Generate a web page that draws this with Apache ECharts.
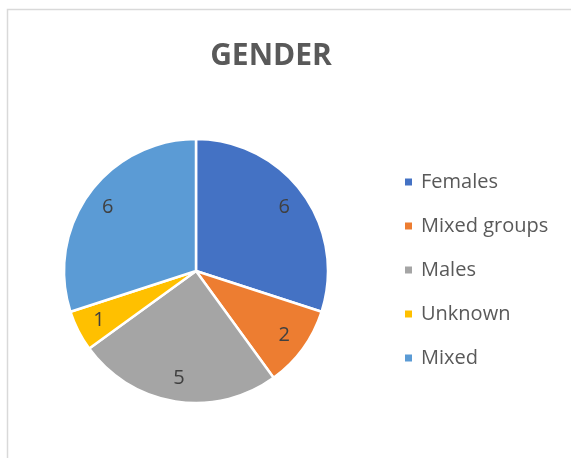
<!DOCTYPE html>
<html>
<head>
<meta charset="utf-8">
<script src="https://cdn.jsdelivr.net/npm/echarts@6/dist/echarts.min.js"></script>
<style>
  html, body { margin: 0; padding: 0; background: #fff; }
  #chart { width: 571px; height: 458px; }
</style>
</head>
<body>
<div id="chart"></div>
<script>
// Gender breakdown, in Excel's order (clockwise from 12 o'clock)
const categories = ['Females', 'Mixed groups', 'Males', 'Unknown', 'Mixed'];
const counts = [6, 2, 5, 1, 6];
const colors = ['#4472C4', '#ED7D31', '#A5A5A5', '#FFC000', '#5B9BD5'];

const data = categories.map((name, i) => ({ name, value: counts[i] }));

const chart = echarts.init(document.getElementById('chart'), null, { renderer: 'canvas' });

chart.setOption({
  animation: false,
  color: colors,
  title: {
    text: 'GENDER',
    left: 266,
    textAlign: 'center',
    top: 36,
    textStyle: { fontFamily: 'Open Sans', fontWeight: 'bold', fontSize: 30, color: '#595959' }
  },
  legend: {
    orient: 'vertical',
    left: 398,
    top: 167,
    icon: 'rect',
    itemWidth: 9,
    itemHeight: 9,
    itemGap: 24,
    data: categories,
    textStyle: {
      fontFamily: 'Open Sans', fontSize: 20, color: '#595959',
      lineHeight: 20, padding: [0, 0, 0, 3]
    }
  },
  // thin frame that Excel draws around the chart area (clipped at right/bottom)
  graphic: [{
    type: 'rect',
    shape: { x: 7.5, y: 9.5, width: 700, height: 600 },
    style: { fill: 'none', stroke: '#d9d9d9', lineWidth: 1.5 },
    silent: true
  }],
  series: [
    {
      type: 'pie',
      center: [196, 271],
      radius: [0, 132],
      startAngle: 90,
      clockwise: true,
      data: data,
      itemStyle: { borderColor: '#fff', borderWidth: 2.5 },
      label: { show: false },
      labelLine: { show: false }
    },
    // invisible ring used only to place the value labels ~0.8 r out from the centre
    {
      type: 'pie',
      center: [196, 271],
      radius: [82, 130],
      startAngle: 90,
      clockwise: true,
      silent: true,
      legendHoverLink: false,
      data: data,
      itemStyle: { color: 'rgba(0,0,0,0)' },
      label: {
        show: true,
        position: 'inside',
        formatter: '{c}',
        fontFamily: 'Open Sans',
        fontSize: 20,
        color: '#404040'
      },
      labelLine: { show: false }
    }
  ]
});
</script>
</body>
</html>
